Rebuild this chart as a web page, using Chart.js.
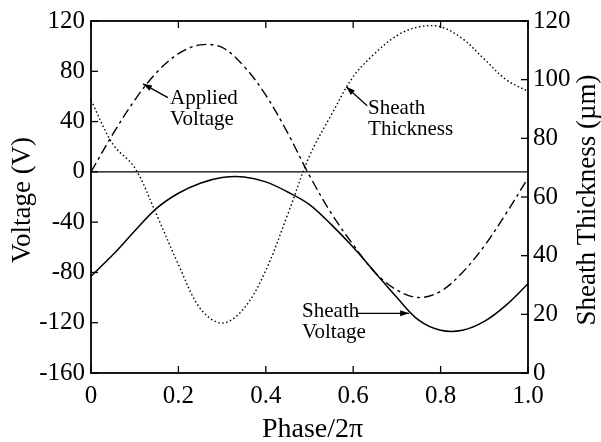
<!DOCTYPE html>
<html>
<head>
<meta charset="utf-8">
<script src="https://cdn.jsdelivr.net/npm/chart.js@4.4.1/dist/chart.umd.min.js"></script>
<style>
html,body{margin:0;padding:0;background:#fff;}
canvas{display:block;}
</style>
</head>
<body>
<canvas id="c" width="601" height="442"></canvas>
<script>
// ---- data ----
const phase = [0,0.05,0.1,0.15,0.2,0.25,0.3,0.35,0.4,0.45,0.5,0.55,0.6,0.65,0.7,0.75,0.8,0.85,0.9,0.95,1.0];
const appliedVoltage = [0,30,57,79,94,101,99,84,61,31,-3,-33,-58,-80,-94,-100,-95,-80,-59,-33,-5];
const sheathVoltage = [-83,-66,-47,-29,-17,-9,-4.5,-4,-8,-16,-26,-42,-60,-80,-100,-118,-126,-126,-119,-106,-89];
const sheathThickness = [93,78,70,54,37,22,17,22,35,54,74,88,101,109,115,118,118,114,107,100,96];
const phaseTicks = [0,0.2,0.4,0.6,0.8,1.0];
const phaseTickLabels = ['0','0.2','0.4','0.6','0.8','1.0'];
const voltageTicks = [-160,-120,-80,-40,0,40,80,120];
const thicknessTicks = [0,20,40,60,80,100,120];

const FONT = '"Liberation Serif","Times New Roman",serif';

function pts(ys){ return phase.map((x,i)=>({x:x,y:ys[i]})); }

const decor = {
  id:'decor',
  afterDraw(chart){
    const ctx = chart.ctx, a = chart.chartArea;
    const xs = chart.scales.x, yl = chart.scales.y, yr = chart.scales.y2;
    ctx.save();
    ctx.strokeStyle = '#000';
    ctx.fillStyle = '#000';
    // zero line
    ctx.lineWidth = 1.3;
    const y0 = yl.getPixelForValue(0);
    ctx.beginPath(); ctx.moveTo(a.left, y0); ctx.lineTo(a.right, y0); ctx.stroke();
    // frame
    ctx.lineWidth = 1.8;
    ctx.strokeRect(a.left, a.top, a.right-a.left, a.bottom-a.top);
    // inward ticks
    ctx.lineWidth = 1.3;
    const L = 7;
    voltageTicks.forEach(v=>{
      const y = yl.getPixelForValue(v);
      ctx.beginPath(); ctx.moveTo(a.left, y); ctx.lineTo(a.left+L, y); ctx.stroke();
    });
    thicknessTicks.forEach(v=>{
      const y = yr.getPixelForValue(v);
      ctx.beginPath(); ctx.moveTo(a.right, y); ctx.lineTo(a.right-L, y); ctx.stroke();
    });
    phaseTicks.forEach(v=>{
      const x = xs.getPixelForValue(v);
      ctx.beginPath(); ctx.moveTo(x, a.bottom); ctx.lineTo(x, a.bottom-L); ctx.stroke();
      ctx.beginPath(); ctx.moveTo(x, a.top); ctx.lineTo(x, a.top+L); ctx.stroke();
    });
    // axis titles
    ctx.font = '27px ' + FONT;
    ctx.textAlign = 'center';
    ctx.textBaseline = 'middle';
    ctx.save();
    ctx.translate(23, (a.top+a.bottom)/2 + 3);
    ctx.rotate(-Math.PI/2);
    ctx.fillText('Voltage (V)', 0, 0);
    ctx.restore();
    ctx.save();
    ctx.translate(588, (a.top+a.bottom)/2 + 3);
    ctx.rotate(-Math.PI/2);
    ctx.fillText('Sheath Thickness (\u00b5m)', 0, 0);
    ctx.restore();
    ctx.font = '28px ' + FONT;
    ctx.textBaseline = 'alphabetic';
    ctx.fillText('Phase/2\u03c0', (a.left+a.right)/2 + 3, 437);

    // annotations
    function arrow(x1,y1,x2,y2){
      const X1 = xs.getPixelForValue(x1), Y1 = yl.getPixelForValue(y1);
      const X2 = xs.getPixelForValue(x2), Y2 = yl.getPixelForValue(y2);
      ctx.lineWidth = 1.3;
      ctx.beginPath(); ctx.moveTo(X1,Y1); ctx.lineTo(X2,Y2); ctx.stroke();
      const ang = Math.atan2(Y2-Y1, X2-X1), h = 9, w = 3;
      ctx.beginPath();
      ctx.moveTo(X2,Y2);
      ctx.lineTo(X2 - h*Math.cos(ang) + w*Math.sin(ang), Y2 - h*Math.sin(ang) - w*Math.cos(ang));
      ctx.lineTo(X2 - h*Math.cos(ang) - w*Math.sin(ang), Y2 - h*Math.sin(ang) + w*Math.cos(ang));
      ctx.closePath(); ctx.fill();
    }
    function label(x, y, lines){
      const X = xs.getPixelForValue(x), Y = yl.getPixelForValue(y);
      ctx.font = '21px ' + FONT;
      ctx.textAlign = 'left';
      ctx.textBaseline = 'alphabetic';
      lines.forEach((t,i)=>ctx.fillText(t, X, Y + i*21));
    }
    label(0.181, 54.2, ['Applied','Voltage']);
    arrow(0.176, 59, 0.119, 70);
    label(0.634, 46.3, ['Sheath','Thickness']);
    arrow(0.632, 52.6, 0.584, 67.7);
    label(0.483, -115.6, ['Sheath','Voltage']);
    arrow(0.611, -112.5, 0.728, -112.5);
    ctx.restore();
  }
};

new Chart(document.getElementById('c'), {
  type:'line',
  data:{
    datasets:[
      {label:'Applied Voltage', data:pts(appliedVoltage), yAxisID:'y', borderColor:'#000', borderWidth:1.4, borderDash:[10,4,3,4], pointRadius:0, tension:0.35, fill:false},
      {label:'Sheath Voltage', data:pts(sheathVoltage), yAxisID:'y', borderColor:'#000', borderWidth:1.5, pointRadius:0, tension:0.35, fill:false},
      {label:'Sheath Thickness', data:pts(sheathThickness), yAxisID:'y2', borderColor:'#000', borderWidth:1.4, borderDash:[1.5,2.5], pointRadius:0, tension:0.35, fill:false}
    ]
  },
  options:{
    responsive:false,
    animation:false,
    layout:{padding:{top:20,left:0,right:0,bottom:0}},
    plugins:{legend:{display:false}, tooltip:{enabled:false}},
    scales:{
      x:{
        type:'linear', min:0, max:1,
        afterBuildTicks:(s)=>{ s.ticks = phaseTicks.map(v=>({value:v})); },
        afterFit:(s)=>{ s.height = 69; },
        grid:{display:false, drawTicks:false},
        border:{display:false},
        ticks:{autoSkip:false, maxRotation:0, padding:8, color:'#000', font:{family:FONT, size:25},
          callback:(v)=>{ const i = phaseTicks.findIndex(t=>Math.abs(t-v)<1e-9); return i>=0 ? phaseTickLabels[i] : ''; }}
      },
      y:{
        type:'linear', position:'left', min:-160, max:120,
        afterBuildTicks:(s)=>{ s.ticks = voltageTicks.map(v=>({value:v})); },
        afterFit:(s)=>{ s.width = 91; },
        grid:{display:false, drawTicks:false},
        border:{display:false},
        ticks:{autoSkip:false, padding:6, color:'#000', font:{family:FONT, size:25}}
      },
      y2:{
        type:'linear', position:'right', min:0, max:120,
        afterBuildTicks:(s)=>{ s.ticks = thicknessTicks.map(v=>({value:v})); },
        afterFit:(s)=>{ s.width = 73; },
        grid:{display:false, drawTicks:false},
        border:{display:false},
        ticks:{autoSkip:false, padding:5, color:'#000', font:{family:FONT, size:25}}
      }
    }
  },
  plugins:[decor]
});
</script>
</body>
</html>
